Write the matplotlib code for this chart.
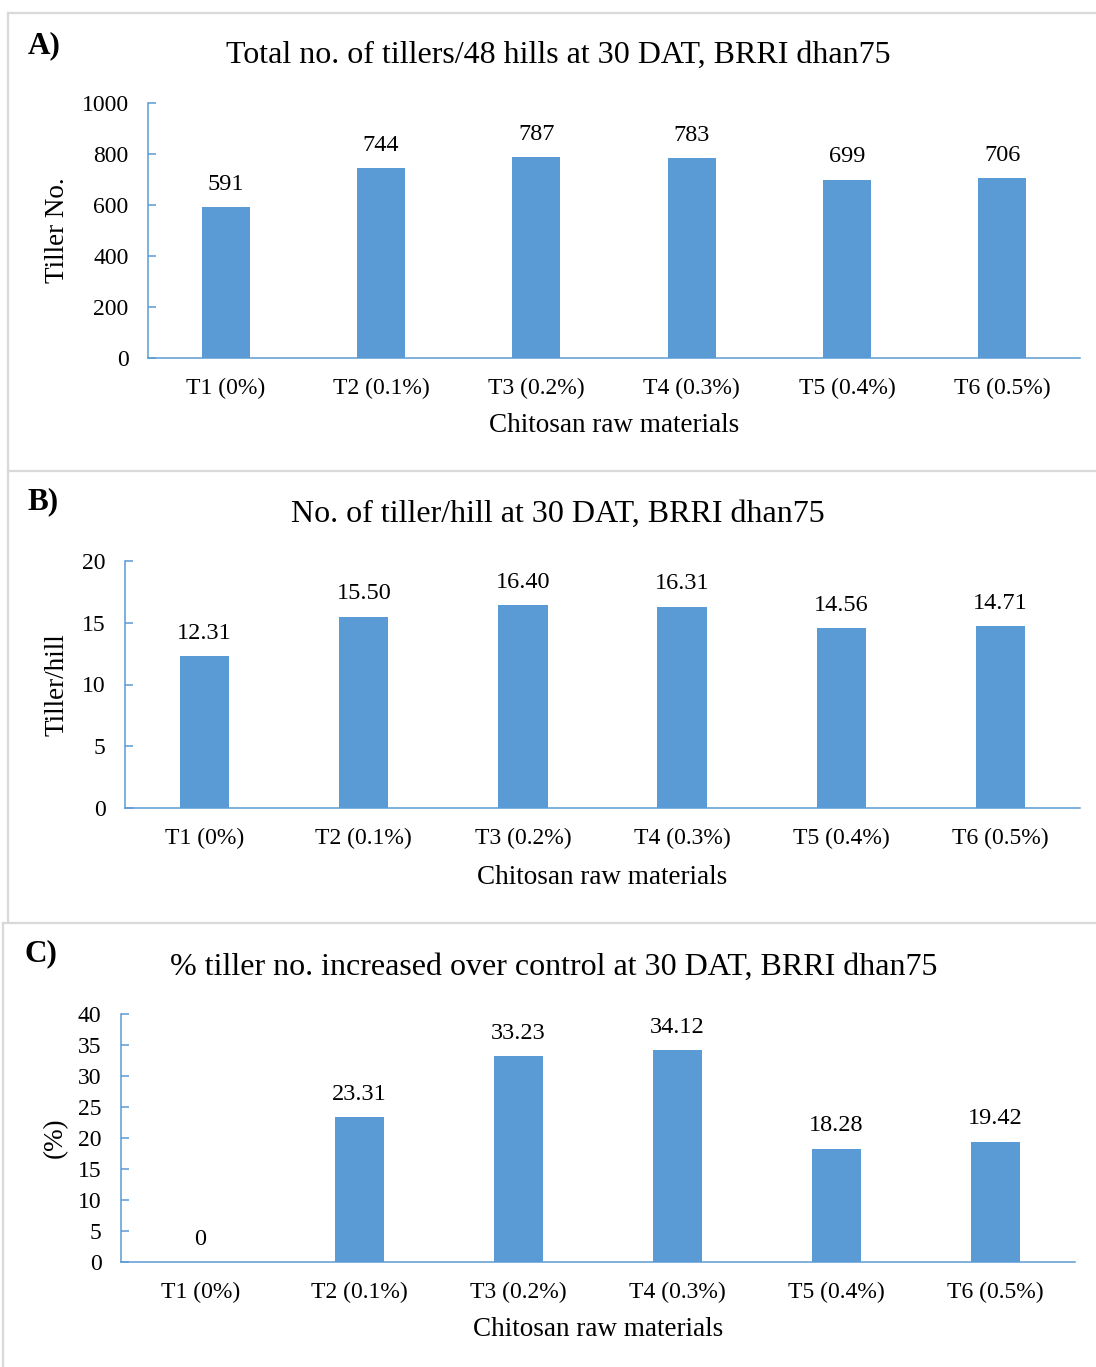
"""Tiller counts under chitosan treatments, three stacked bar panels."""

import matplotlib
matplotlib.use("Agg")
import matplotlib.pyplot as plt
from matplotlib.lines import Line2D

plt.rcParams["font.family"] = ["Liberation Serif", "DejaVu Serif"]

W, H = 1096, 1367
BLUE = "#5B9BD5"
BORDER = "#D9D9D9"

treatments = ["T1 (0%)", "T2 (0.1%)", "T3 (0.2%)", "T4 (0.3%)", "T5 (0.4%)", "T6 (0.5%)"]

tillers_total = [591, 744, 787, 783, 699, 706]
tillers_total_lbl = ["591", "744", "787", "783", "699", "706"]

tillers_per_hill = [12.31, 15.50, 16.40, 16.31, 14.56, 14.71]
tillers_per_hill_lbl = ["12.31", "15.50", "16.40", "16.31", "14.56", "14.71"]

pct_increase = [0, 23.31, 33.23, 34.12, 18.28, 19.42]
pct_increase_lbl = ["0", "23.31", "33.23", "34.12", "18.28", "19.42"]


def fx(px):
    return px / W


def fy(py):
    return 1 - py / H


def px_axes(fig, left, top, right, bottom):
    return fig.add_axes([fx(left), fy(bottom), (right - left) / W, (bottom - top) / H])


def bar_panel(fig, box, values, labels, ymax, ystep, title, title_xy,
              letter, letter_xy, ylabel, ylabel_x, xlabel_y):
    left, top, right, bottom = box
    ax = px_axes(fig, left, top, right, bottom)
    x = range(len(values))
    ax.bar(x, values, width=0.31, color=BLUE, zorder=2)
    for xi, v, lbl in zip(x, values, labels):
        ax.annotate(lbl, (xi, v), xytext=(0, 16.5), textcoords="offset points",
                    ha="center", va="center", fontsize=17.5)
    ax.set_xlim(-0.5, len(values) - 0.5)
    ax.set_ylim(0, ymax)
    ax.set_yticks(range(0, ymax + 1, ystep))
    ax.set_xticks(list(x))
    ax.set_xticklabels(treatments)
    for s in ("top", "right"):
        ax.spines[s].set_visible(False)
    for s in ("left", "bottom"):
        ax.spines[s].set_color(BLUE)
        ax.spines[s].set_linewidth(1.1)
    ax.tick_params(axis="y", direction="in", length=6, width=1.1, color=BLUE,
                   labelsize=17, pad=14)
    ax.tick_params(axis="x", length=0, labelsize=17, pad=14)
    ax.set_facecolor("none")

    fig.text(fx(title_xy[0]), fy(title_xy[1]), title, ha="center", va="center", fontsize=23)
    fig.text(fx(letter_xy[0]), fy(letter_xy[1]), letter, ha="left", va="center",
             fontsize=22.5, fontweight="bold")
    fig.text(fx(ylabel_x), fy((top + bottom) / 2), ylabel, rotation=90,
             ha="center", va="center", fontsize=19.5)
    fig.text(fx((left + right) / 2), fy(xlabel_y), "Chitosan raw materials",
             ha="center", va="center", fontsize=19.5)
    return ax


fig = plt.figure(figsize=(W / 100, H / 100), dpi=100)

# light grey panel frames
for (x0, y0, y1) in [(8, 13, 470), (8, 471, 921), (3, 923, 1367)]:
    fig.add_artist(Line2D([fx(x0), 1], [fy(y0), fy(y0)], color=BORDER, lw=1.6))
    fig.add_artist(Line2D([fx(x0), fx(x0)], [fy(y0), fy(y1)], color=BORDER, lw=1.6))

bar_panel(fig, (148, 103, 1080, 358), tillers_total, tillers_total_lbl, 1000, 200,
          "Total no. of tillers/48 hills at 30 DAT, BRRI dhan75", (558, 55),
          "A)", (28, 46), "Tiller No.", 57, 426)

bar_panel(fig, (125, 561, 1080, 808), tillers_per_hill, tillers_per_hill_lbl, 20, 5,
          "No. of tiller/hill at 30 DAT, BRRI dhan75", (558, 514),
          "B)", (27, 502), "Tiller/hill", 57, 877)

bar_panel(fig, (121, 1014, 1075, 1262), pct_increase, pct_increase_lbl, 40, 5,
          "% tiller no. increased over control at 30 DAT, BRRI dhan75", (554, 967),
          "C)", (24, 954), "(%)", 55, 1330)

fig.savefig("out.png", dpi=100)
